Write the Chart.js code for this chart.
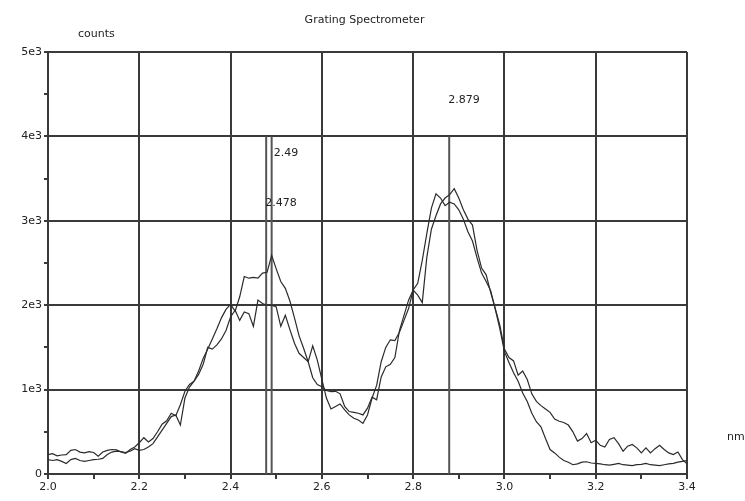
<!DOCTYPE html>
<html>
<head>
<meta charset="utf-8">
<script src="https://cdn.jsdelivr.net/npm/chart.js@4/dist/chart.umd.min.js"></script>
<style>
html,body{margin:0;padding:0;background:#fff;}
#wrap{width:745px;height:501px;}
</style>
</head>
<body>
<div id="wrap"><canvas id="c" width="745" height="501"></canvas></div>
<script>
// ---- data ----
const wavelengths = [
2.00,2.01,2.02,2.03,2.04,2.05,2.06,2.07,2.08,2.09,
2.10,2.11,2.12,2.13,2.14,2.15,2.16,2.17,2.18,2.19,
2.20,2.21,2.22,2.23,2.24,2.25,2.26,2.27,2.28,2.29,
2.30,2.31,2.32,2.33,2.34,2.35,2.36,2.37,2.38,2.39,
2.40,2.41,2.42,2.43,2.44,2.45,2.46,2.47,2.48,2.49,
2.50,2.51,2.52,2.53,2.54,2.55,2.56,2.57,2.58,2.59,
2.60,2.61,2.62,2.63,2.64,2.65,2.66,2.67,2.68,2.69,
2.70,2.71,2.72,2.73,2.74,2.75,2.76,2.77,2.78,2.79,
2.80,2.81,2.82,2.83,2.84,2.85,2.86,2.87,2.88,2.89,
2.90,2.91,2.92,2.93,2.94,2.95,2.96,2.97,2.98,2.99,
3.00,3.01,3.02,3.03,3.04,3.05,3.06,3.07,3.08,3.09,
3.10,3.11,3.12,3.13,3.14,3.15,3.16,3.17,3.18,3.19,
3.20,3.21,3.22,3.23,3.24,3.25,3.26,3.27,3.28,3.29,
3.30,3.31,3.32,3.33,3.34,3.35,3.36,3.37,3.38,3.39,
3.40];

const countsA = [
230,240,215,225,230,280,290,260,250,265,
255,210,260,280,290,285,260,245,290,320,
370,430,380,420,500,590,630,720,690,820,
980,1060,1100,1220,1370,1480,1600,1720,1850,1950,
2010,1930,2100,2340,2320,2330,2320,2380,2390,2590,
2430,2280,2200,2050,1850,1640,1490,1330,1140,1060,
1035,990,975,980,950,800,740,730,720,700,
780,910,880,1150,1270,1300,1380,1700,1880,2060,
2180,2120,2030,2570,2900,3060,3200,3270,3310,3380,
3270,3130,3020,2950,2650,2440,2360,2150,1960,1760,
1480,1380,1340,1170,1220,1120,950,860,810,770,
730,650,625,610,580,500,390,420,480,370,
400,340,320,410,430,360,270,330,350,310,
250,310,250,300,340,290,250,230,260,170,
120];

const countsB = [
170,160,170,150,125,170,185,160,150,160,
170,175,185,230,260,270,265,255,270,300,
280,290,320,360,440,520,600,680,700,580,
900,1030,1100,1180,1300,1500,1480,1530,1600,1700,
1860,1940,1820,1920,1900,1750,2060,2020,2000,2000,
1980,1750,1880,1710,1550,1430,1380,1330,1520,1350,
1120,900,770,800,830,760,700,660,640,600,
700,900,1050,1330,1500,1590,1580,1680,1820,1960,
2180,2260,2530,2850,3150,3320,3270,3180,3220,3200,
3130,3020,2870,2760,2560,2380,2280,2170,1950,1720,
1450,1320,1200,1100,960,860,720,620,560,420,
290,250,200,160,140,110,120,140,145,130,
125,120,110,105,115,125,110,105,100,110,
115,125,110,105,100,110,120,125,140,150,
160];

const markerValues = [2.478, 2.49, 2.879];
const markerLabels = ['2.478', '2.49', '2.879'];
const markerTop = 4000;

const xTickLabels = ['2.0','2.2','2.4','2.6','2.8','3.0','3.2','3.4'];
const yTickLabels = ['0','1e3','2e3','3e3','4e3','5e3'];

const titleText = 'Grating Spectrometer';
const yAxisTitle = 'counts';
const xAxisTitle = 'nm';

// ---- chart ----
const LINE = '#2b2b2b';
const GRID = '#3a3a3a';
const FONT = '"DejaVu Sans", sans-serif';

const curve = (vals) => wavelengths.map((w, i) => ({x: w, y: vals[i]}));
const datasets = [
  {data: curve(countsA), borderColor: LINE, borderWidth: 1.2, pointRadius: 0, tension: 0, fill: false},
  {data: curve(countsB), borderColor: LINE, borderWidth: 1.2, pointRadius: 0, tension: 0, fill: false}
];
markerValues.forEach(v => {
  datasets.push({data: [{x: v, y: 0}, {x: v, y: markerTop}], borderColor: '#555', borderWidth: 2, pointRadius: 0, fill: false});
});

const isMajorX = (v) => Math.abs(Math.round(v * 10) % 2) === 0;
const isMajorY = (v) => Math.round(v) % 1000 === 0;

const textPlugin = {
  id: 'texts',
  afterDraw(chart) {
    const ctx = chart.ctx;
    const xs = chart.scales.x, ys = chart.scales.y;
    const area = chart.chartArea;
    ctx.save();
    ctx.fillStyle = '#222';
    ctx.font = '11px ' + FONT;
    ctx.textBaseline = 'middle';
    ctx.textAlign = 'center';
    ctx.fillText(titleText, (area.left + area.right) / 2 - 3, 20);
    ctx.textAlign = 'left';
    ctx.fillText(yAxisTitle, 78, 34);
    ctx.fillText(xAxisTitle, 727, 437);
    // marker labels
    const offs = [{dx: -1, y: 3210}, {dx: 2, y: 3800}, {dx: -1, y: 4430}];
    markerValues.forEach((v, i) => {
      ctx.fillText(markerLabels[i], xs.getPixelForValue(v) + offs[i].dx, ys.getPixelForValue(offs[i].y));
    });
    ctx.restore();
  }
};

new Chart(document.getElementById('c'), {
  type: 'line',
  data: {datasets},
  plugins: [textPlugin],
  options: {
    responsive: false,
    animation: false,
    parsing: true,
    layout: {padding: {left: 0, top: 52, right: 58, bottom: 0}},
    plugins: {legend: {display: false}, tooltip: {enabled: false}, title: {display: false}},
    scales: {
      x: {
        type: 'linear', min: 2.0, max: 3.4,
        afterFit(s) { s.height = 27; },
        ticks: {
          stepSize: 0.1, autoSkip: false, maxRotation: 0, padding: 2,
          color: '#222', font: {family: FONT, size: 11},
          callback(v) {
            if (!isMajorX(v)) return '';
            const i = Math.round((v - 2.0) / 0.2);
            return xTickLabels[i];
          }
        },
        grid: {
          color: (c) => isMajorX(c.tick.value) ? GRID : 'rgba(0,0,0,0)',
          tickColor: GRID, tickLength: 5, lineWidth: 2
        },
        border: {display: true, color: GRID, width: 2}
      },
      y: {
        type: 'linear', min: 0, max: 5000,
        afterFit(s) { s.width = 48; },
        ticks: {
          stepSize: 500, autoSkip: false, padding: 2,
          color: '#222', font: {family: FONT, size: 11},
          callback(v) {
            if (!isMajorY(v)) return '';
            return yTickLabels[Math.round(v / 1000)];
          }
        },
        grid: {
          color: (c) => isMajorY(c.tick.value) ? GRID : 'rgba(0,0,0,0)',
          tickColor: GRID, tickLength: 4, lineWidth: 2
        },
        border: {display: true, color: GRID, width: 2}
      }
    }
  }
});
</script>
</body>
</html>
